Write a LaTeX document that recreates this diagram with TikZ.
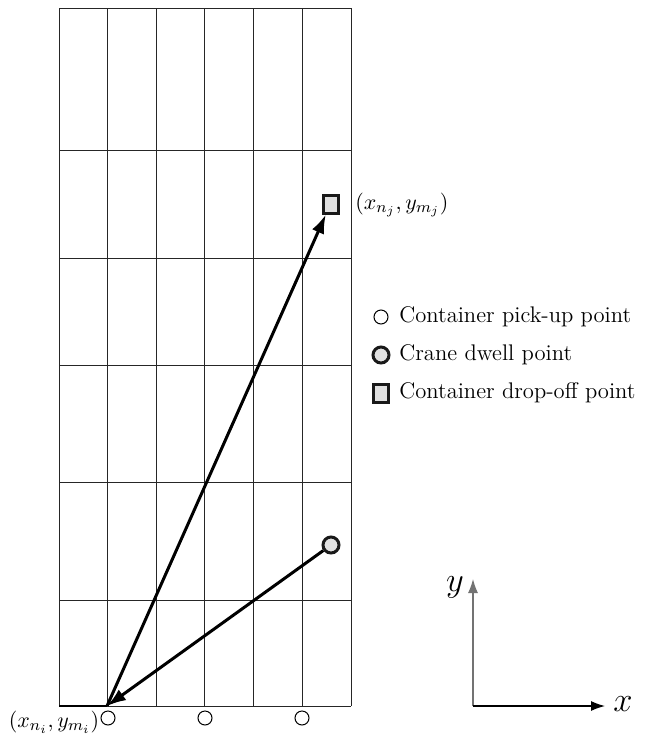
\documentclass[tikz,border=0pt]{standalone}
\usetikzlibrary{arrows.meta}
\begin{document}
\begin{tikzpicture}[x=0.5pt,y=-0.5pt,
  gridline/.style={draw=black!85,line width=0.4pt},
  pickup/.style={circle,draw=black,line width=0.5pt,fill=white,minimum size=7pt,inner sep=0pt},
  dwell/.style={circle,draw=black!90,line width=1.5pt,fill=black!12,minimum size=8pt,inner sep=0pt},
  dropoff/.style={rectangle,draw=black!90,line width=1.5pt,fill=black!12,minimum width=7.5pt,minimum height=9pt,inner sep=0pt},
  movearrow/.style={line width=1.5pt,-{Latex[length=9.5pt,width=6.5pt]}},
  axisarrow/.style={line width=0.6pt,-{Latex[length=7pt,width=5pt]}},
  lbl/.style={font=\fontsize{11.3}{13}\selectfont,inner sep=0pt},
  axlbl/.style={font=\fontsize{17}{19}\selectfont,inner sep=0pt}]
\useasboundingbox (0,0) rectangle (655,740);
% grid
\foreach \xx in {59,107,156,204,253,302,351}
  \draw[gridline] (\xx,8) -- (\xx,706);
\foreach \yy in {8,150,258,365,482,600,706}
  \draw[gridline] (59,\yy) -- (351,\yy);
\draw[line width=1pt] (59,706) -- (107,706);
% points
\coordinate (pk) at (107,706);
\node[pickup] (p1) at (108,718) {};
\node[pickup] (p2) at (205,718) {};
\node[pickup] (p3) at (302,718) {};
\node[dwell] (dw) at (331,545) {};
\node[dropoff] (dr) at (330.5,204) {};
% moves
\draw[movearrow] (dw) -- (pk);
\draw[movearrow] (pk) -- (dr);
% labels
\node[lbl] (li) at (54,722) {$(x_{n_i},y_{m_i})$};
\node[lbl,anchor=west] (lj) at (355,205) {$(x_{n_j},y_{m_j})$};
% legend
\node[pickup] (lg1) at (381,317) {};
\node[dwell] (lg2) at (381,355) {};
\node[dropoff] (lg3) at (381,393) {};
\node[lbl,anchor=west] (t1) at (399,317) {Container pick-up point};
\node[lbl,anchor=west] (t2) at (399,355) {Crane dwell point};
\node[lbl,anchor=west] (t3) at (399,393) {Container drop-off point};
% axes
\coordinate (o) at (473,706);
\coordinate (xe) at (605,706);
\coordinate (ye) at (473,579);
\draw[axisarrow,draw=black!55] (o) -- (ye);
\draw[axisarrow] (o) -- (xe);
\node[axlbl] (xl) at (623,704) {$x$};
\node[axlbl] (yl) at (455,587) {$y$};
\end{tikzpicture}
\end{document}
